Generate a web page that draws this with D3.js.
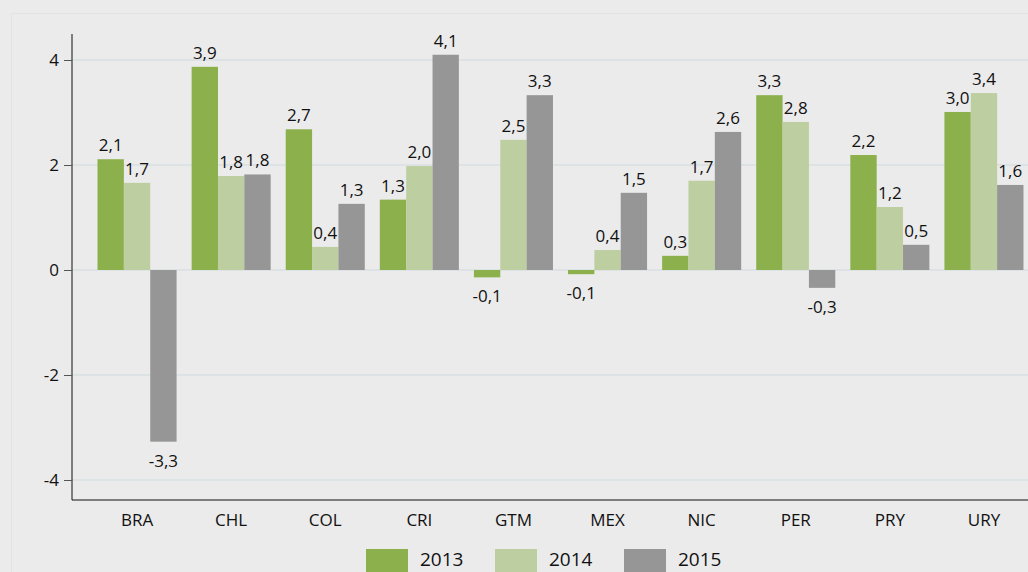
<!DOCTYPE html>
<html>
<head>
<meta charset="utf-8">
<script src="https://cdn.jsdelivr.net/npm/d3@7"></script>
<style>
  body { margin: 0; background: #ebebeb; }
  svg { display: block; font-family: "Open Sans", sans-serif; }
</style>
</head>
<body>
<svg></svg>
<script>
var categories = ["BRA", "CHL", "COL", "CRI", "GTM", "MEX", "NIC", "PER", "PRY", "URY"];
var years = ["2013", "2014", "2015"];
var v2013 = [2.11, 3.87, 2.68, 1.34, -0.14, -0.08, 0.27, 3.33, 2.19, 3.01];
var v2014 = [1.66, 1.79, 0.44, 1.98, 2.48, 0.38, 1.70, 2.82, 1.20, 3.37];
var v2015 = [-3.27, 1.82, 1.26, 4.10, 3.33, 1.47, 2.63, -0.34, 0.48, 1.62];
var yTicks = [-4, -2, 0, 2, 4];
var colors = ["#8cb04b", "#bdcfa0", "#969696"];

var W = 1028, H = 572;
var series = [v2013, v2014, v2015];
var data = categories.map((c, i) => ({cat: c, vals: years.map((y, j) => ({year: y, v: series[j][i]}))}));

var svg = d3.select("svg").attr("width", W).attr("height", H);

svg.append("rect")
  .attr("x", 11.5).attr("y", 13.5).attr("width", W).attr("height", H)
  .attr("fill", "none").attr("stroke", "#e3e3e3");

var x = d3.scaleBand().domain(categories).range([90, 1031]).paddingInner(0.16).paddingOuter(0.08);
var xs = d3.scaleBand().domain(years).range([0, x.bandwidth()]);
var y = d3.scaleLinear().domain([-4, 4]).range([480, 60]);

var fmt = v => d3.format(".1f")(v).replace(".", ",").replace("−", "-");

// grid
svg.append("g").selectAll("line").data(yTicks).join("line")
  .attr("x1", 72).attr("x2", W).attr("y1", d => y(d)).attr("y2", d => y(d))
  .attr("stroke", "#d9e0e3").attr("stroke-width", 1.5);

// bars
var g = svg.append("g").selectAll("g").data(data).join("g")
  .attr("transform", d => "translate(" + x(d.cat) + ",0)");

g.selectAll("rect").data(d => d.vals).join("rect")
  .attr("x", d => xs(d.year))
  .attr("width", xs.bandwidth())
  .attr("y", d => y(Math.max(0, d.v)))
  .attr("height", d => Math.abs(y(d.v) - y(0)))
  .attr("fill", (d, i) => colors[i]);

g.selectAll("text").data(d => d.vals).join("text")
  .attr("x", d => xs(d.year) + xs.bandwidth() / 2)
  .attr("y", d => d.v >= 0 ? y(d.v) - 8 : y(d.v) + 25)
  .attr("text-anchor", "middle")
  .attr("font-size", 17).attr("fill", "#111")
  .text(d => fmt(d.v));

// y axis
var ya = svg.append("g").attr("transform", "translate(72,0)")
  .call(d3.axisLeft(y).tickValues(yTicks).tickSize(8).tickPadding(5).tickFormat(d => String(d)));
ya.select(".domain").attr("d", "M0,34V500").attr("stroke", "#111");
ya.selectAll(".tick line").attr("stroke", "#555");
ya.selectAll(".tick text").attr("font-size", 17).attr("fill", "#111").attr("font-family", "Open Sans");

// x axis
var xa = svg.append("g").attr("transform", "translate(0,500)")
  .call(d3.axisBottom(x).tickSize(0).tickPadding(14));
xa.select(".domain").attr("d", "M72,0H" + W).attr("stroke", "#111");
xa.selectAll(".tick text").attr("font-size", 17).attr("fill", "#111").attr("font-family", "Open Sans");

// legend
var lg = svg.append("g").selectAll("g").data(years).join("g")
  .attr("transform", (d, i) => "translate(" + (366 + i * 129) + ",549)");
lg.append("rect").attr("width", 42).attr("height", 24).attr("fill", (d, i) => colors[i]);
lg.append("text").attr("x", 54).attr("y", 17).attr("font-size", 19).attr("fill", "#111").text(d => d);
</script>
</body>
</html>
